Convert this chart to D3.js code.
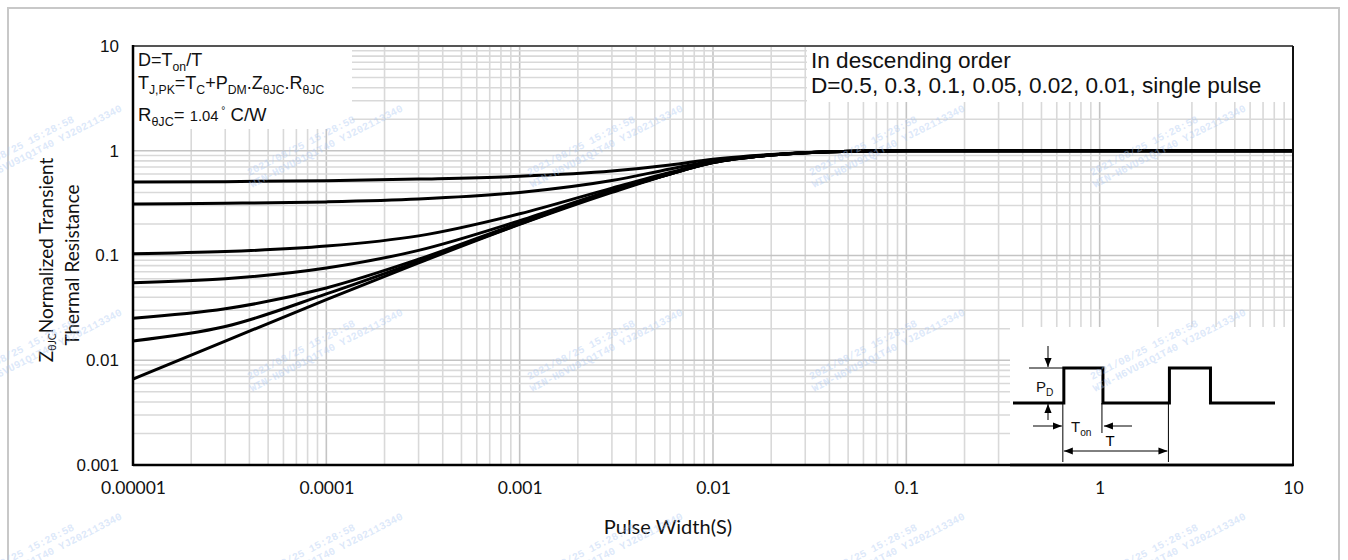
<!DOCTYPE html>
<meta charset="utf-8">
<body style="margin:0;background:#fff">
<script src="https://cdn.jsdelivr.net/npm/d3@7/dist/d3.min.js"></script>
<script>

    // pulse width (s) and normalized Z(thJC)
    var pulseWidth = [1e-5, 3e-5, 1e-4, 3e-4, 1e-3, 3e-3, 6e-3, 1e-2, 2e-2, 4e-2, 1e-1, 1, 10];
    var zD050  = [0.503, 0.507, 0.518, 0.537, 0.57, 0.64, 0.73, 0.83, 0.92, 0.98, 1, 1, 1];
    var zD030  = [0.31, 0.315, 0.325, 0.346, 0.40, 0.52, 0.67, 0.80, 0.915, 0.98, 1, 1, 1];
    var zD010  = [0.104, 0.109, 0.123, 0.154, 0.25, 0.44, 0.62, 0.78, 0.91, 0.98, 1, 1, 1];
    var zD005  = [0.055, 0.060, 0.076, 0.112, 0.215, 0.42, 0.61, 0.78, 0.91, 0.98, 1, 1, 1];
    var zD002  = [0.0252, 0.031, 0.049, 0.092, 0.205, 0.41, 0.60, 0.77, 0.91, 0.98, 1, 1, 1];
    var zD001  = [0.0153, 0.021, 0.043, 0.088, 0.20, 0.41, 0.60, 0.77, 0.91, 0.98, 1, 1, 1];
    var zSingle = [0.0066, 0.0152, 0.038, 0.085, 0.198, 0.40, 0.60, 0.77, 0.91, 0.98, 1, 1, 1];
    var series = [zD050, zD030, zD010, zD005, zD002, zD001, zSingle];

    var xTickLabels = ["0.00001", "0.0001", "0.001", "0.01", "0.1", "1", "10"];
    var yTickLabels = ["0.001", "0.01", "0.1", "1", "10"];

    // inset waveform: [time unit, level]
    var waveTime  = [0, 1.3, 1.3, 2.3, 2.3, 4.0, 4.0, 5.05, 5.05, 6.7];
    var waveLevel = [0, 0, 1, 1, 0, 0, 1, 1, 0, 0];

    var width = 1348, height = 560;
    var plotL = 133, plotR = 1293, plotT = 46, plotB = 465;

    var svg = d3.select("body").append("svg")
            .attr("width", width)
            .attr("height", height)
            .style("font-family", "'Liberation Sans', Arial, sans-serif");

    // outer light frame
    svg.append("rect")
            .attr("x", 8).attr("y", 8)
            .attr("width", 1331).attr("height", 600)
            .attr("fill", "none").attr("stroke", "#c8c8c8").attr("stroke-width", 2);

    var x = d3.scaleLog().domain([1e-5, 10]).range([plotL, plotR]);
    var y = d3.scaleLog().domain([0.001, 10]).range([plotB, plotT]);

    var decadeX = xTickLabels.map(Number), decadeY = yTickLabels.map(Number);

    // grid
    var grid = svg.append("g");
    grid.selectAll(".gx").data(x.ticks()).enter().append("line")
            .attr("x1", d => x(d)).attr("x2", d => x(d))
            .attr("y1", plotT).attr("y2", plotB)
            .attr("stroke", d => decadeX.indexOf(d) >= 0 ? "#c4c4c4" : "#d9d9d9")
            .attr("stroke-width", 1.6);
    grid.selectAll(".gy").data(y.ticks()).enter().append("line")
            .attr("x1", plotL).attr("x2", plotR)
            .attr("y1", d => y(d)).attr("y2", d => y(d))
            .attr("stroke", d => decadeY.indexOf(d) >= 0 ? "#c4c4c4" : "#d9d9d9")
            .attr("stroke-width", 1.6);

    // white boxes that hide the grid
    svg.append("rect").attr("x", plotL).attr("y", plotT).attr("width", 219).attr("height", 83).attr("fill", "#fff");
    svg.append("rect").attr("x", 807).attr("y", plotT).attr("width", plotR - 807).attr("height", 56).attr("fill", "#fff");
    svg.append("rect").attr("x", 1010).attr("y", 327).attr("width", plotR - 1010).attr("height", plotB - 327).attr("fill", "#fff");

    // curves
    var line = d3.line()
            .x((d, i) => x(pulseWidth[i]))
            .y(d => y(d))
            .curve(d3.curveMonotoneX);

    svg.append("g").selectAll("path").data(series).enter().append("path")
            .attr("d", line)
            .attr("fill", "none")
            .attr("stroke", "#000")
            .attr("stroke-width", 3);

    // plot frame
    svg.append("line").attr("x1", plotL).attr("x2", plotR).attr("y1", plotT).attr("y2", plotT)
            .attr("stroke", "#555").attr("stroke-width", 2);
    svg.append("line").attr("x1", plotR).attr("x2", plotR).attr("y1", plotT).attr("y2", plotB)
            .attr("stroke", "#111").attr("stroke-width", 2);
    svg.append("line").attr("x1", plotL).attr("x2", plotL).attr("y1", plotT - 1).attr("y2", plotB + 1)
            .attr("stroke", "#000").attr("stroke-width", 2.5);
    svg.append("line").attr("x1", plotL).attr("x2", plotR + 1).attr("y1", plotB).attr("y2", plotB)
            .attr("stroke", "#000").attr("stroke-width", 2.5);

    // axes (labels only)
    var xAxis = d3.axisBottom(x).tickValues(decadeX).tickSize(0).tickPadding(17)
            .tickFormat((d, i) => xTickLabels[i]);
    var gx = svg.append("g").attr("transform", "translate(0," + plotB + ")").call(xAxis);
    gx.select(".domain").remove();
    gx.selectAll("text").attr("fill", "#111").style("font-family", "Lato, sans-serif").style("font-size", "17.5px");

    var yAxis = d3.axisLeft(y).tickValues(decadeY).tickSize(0).tickPadding(14)
            .tickFormat((d, i) => yTickLabels[i]);
    var gy = svg.append("g").attr("transform", "translate(" + plotL + ",0)").call(yAxis);
    gy.select(".domain").remove();
    gy.selectAll("text").attr("fill", "#111").style("font-family", "'Liberation Sans', Arial, sans-serif").style("font-size", "17px");

    // text with sub/superscripts
    function rich(g, tx, ty, parts, size) {
        var t = g.append("text").attr("x", tx).attr("y", ty).style("font-size", size + "px").attr("fill", "#111");
        var shift = 0;
        parts.forEach(function(p) {
            var s = t.append("tspan").text(p[0]);
            var want = 0, fs = size;
            if (p[1] === "sub") { want = size * 0.28; fs = size * 0.68; }
            if (p[1] === "sup") { want = -size * 0.4; fs = size * 0.55; }
            if (p[1] === "small") { fs = size * 0.8; }
            if (p[1] === "tiny") { want = size * 0.15; fs = size * 0.55; }
            s.style("font-size", fs + "px");
            if (want !== shift) { s.attr("dy", want - shift); shift = want; }
        });
        return t;
    }

    var notes = svg.append("g");
    rich(notes, 138, 66, [["D=T"], ["on", "sub"], ["/T"]], 18);
    rich(notes, 138, 89, [["T"], ["J,PK", "sub"], ["=T"], ["C", "sub"], ["+P"], ["DM", "sub"], [".Z"], ["θJC", "sub"], [".R"], ["θJC", "sub"]], 18);
    rich(notes, 138, 121, [["R"], ["θJC", "sub"], ["=  "], ["1.04", "small"], [" °", "sup"], [" C/W"]], 18.5);

    var legend = svg.append("g").style("font-size", "22.6px").attr("fill", "#111");
    legend.append("text").attr("x", 811).attr("y", 68).text("In descending order");
    legend.append("text").attr("x", 811).attr("y", 93).text("D=0.5, 0.3, 0.1, 0.05, 0.02, 0.01, single pulse");

    // axis titles
    svg.append("text").attr("x", 668).attr("y", 534).attr("text-anchor", "middle")
            .style("font-family", "Lato, sans-serif").style("font-size", "20px").attr("fill", "#111")
            .text("Pulse Width(S)");

    var yt = svg.append("g").style("font-family", "Lato, sans-serif");
    rich(yt, 0, 0, [["Z"], ["θJC", "tiny"], ["Normalized Transient"]], 19)
            .attr("text-anchor", "middle").attr("transform", "translate(53,260) rotate(-90)");
    rich(yt, 0, 0, [["Thermal Resistance"]], 19)
            .attr("text-anchor", "middle").attr("transform", "translate(79,265) rotate(-90)");

    // inset pulse diagram
    var ix = d3.scaleLinear().domain([0, 6.7]).range([1013, 1275]);
    var iy = d3.scaleLinear().domain([0, 1]).range([403, 368]);
    var inset = svg.append("g");

    var defs = svg.append("defs");
    defs.append("marker").attr("id", "ah").attr("viewBox", "0 0 10 10")
            .attr("refX", 10).attr("refY", 5).attr("markerWidth", 9).attr("markerHeight", 9)
            .attr("markerUnits", "userSpaceOnUse").attr("orient", "auto-start-reverse")
            .append("path").attr("d", "M0,1 L10,5 L0,9 Z").attr("fill", "#000");

    svg.append("line").attr("x1", 1010).attr("x2", plotR).attr("y1", plotB).attr("y2", plotB)
            .attr("stroke", "#000").attr("stroke-width", 2.5);

    inset.append("path")
            .attr("d", d3.line().x((d, i) => ix(waveTime[i])).y(d => iy(d))(waveLevel))
            .attr("fill", "none").attr("stroke", "#000").attr("stroke-width", 3);

    function thin(x1, y1, x2, y2, m) {
        var l = inset.append("line").attr("x1", x1).attr("y1", y1).attr("x2", x2).attr("y2", y2)
                .attr("stroke", "#000").attr("stroke-width", 1);
        if (m === "end" || m === "both") l.attr("marker-end", "url(#ah)");
        if (m === "start" || m === "both") l.attr("marker-start", "url(#ah)");
    }
    thin(1029, iy(1), ix(1.3), iy(1));
    thin(1048, 346, 1048, iy(1) - 1, "end");
    thin(1048, 420, 1048, iy(0) + 1, "end");
    thin(ix(1.3) - 1, iy(0), ix(1.3) - 1, 462);
    thin(ix(2.3) - 1, iy(0), ix(2.3) - 1, 433);
    thin(ix(4.0) - 1, iy(0), ix(4.0) - 1, 462);
    thin(1033, 426, ix(1.3) - 2, 426, "end");
    thin(1132, 426, ix(2.3) + 1, 426, "end");
    thin(ix(1.3), 451, ix(4.0) - 2, 451, "both");

    rich(inset, 1036, 392, [["P"], ["D", "sub"]], 15);
    rich(inset, 1071, 432, [["T"], ["on", "sub"]], 15);
    inset.append("text").attr("x", 1110).attr("y", 446).attr("text-anchor", "middle")
            .style("font-size", "15px").text("T");

    // faint watermark tiles
    var wmX = [-29, 252, 532, 814, 1095], wmY = [188, 392, 596];
    var wm = svg.append("g").style("font-family", "'Liberation Mono', monospace")
            .style("font-weight", "bold").style("font-size", "10.5px")
            .attr("fill", "#a9c6f2").attr("fill-opacity", 0.4);
    wmY.forEach(function(wy) {
        wmX.forEach(function(wx) {
            var g = wm.append("g").attr("transform", "translate(" + wx + "," + wy + ") rotate(-27)");
            g.append("text").attr("x", 3).attr("y", -12).text("2021/08/25  15:28:58");
            g.append("text").attr("x", 0).attr("y", 0).text("WIN-H6VU91Q1T40 YJ202113340");
        });
    });

</script>
